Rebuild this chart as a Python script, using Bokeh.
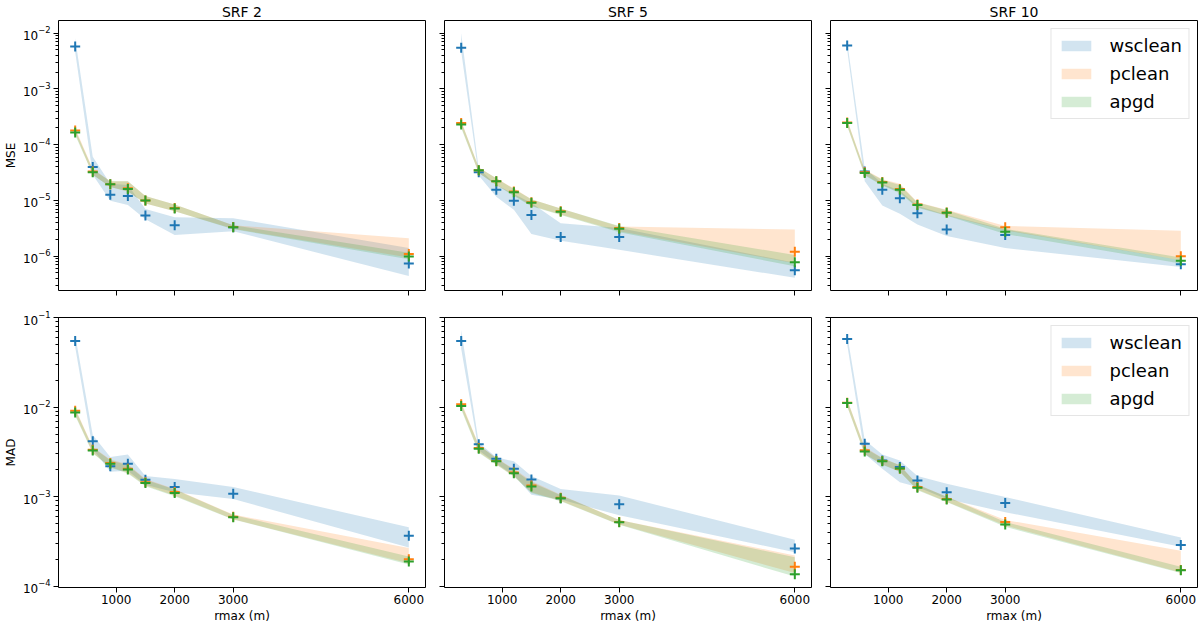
from bokeh.embed import file_html
from bokeh.layouts import gridplot
from bokeh.models import CustomJSTickFormatter, FixedTicker, LogTicker, Range1d
from bokeh.plotting import figure
from bokeh.resources import INLINE

rmax = [300, 600, 900, 1200, 1500, 2000, 3000, 6000]
x_ticks = [1000, 2000, 3000, 6000]
srf_labels = ["SRF 2", "SRF 5", "SRF 10"]
methods = ["wsclean", "pclean", "apgd"]
colors = ["#1f77b4", "#ff7f0e", "#2ca02c"]

# MSE, SRF 2
mse_srf2_wsclean = [5.8e-3, 4.0e-5, 1.26e-5, 1.2e-5, 5.4e-6, 3.6e-6, 3.3e-6, 7.4e-7]
mse_srf2_wsclean_lo = [4.6e-3, 2.9e-5, 9.9e-6, 8.3e-6, 4.6e-6, 2.4e-6, 2.8e-6, 4.4e-7]
mse_srf2_wsclean_hi = [8.1e-3, 6.1e-5, 2.0e-5, 1.9e-5, 7.0e-6, 5.0e-6, 4.8e-6, 1.4e-6]
mse_srf2_pclean = [1.8e-4, 3.3e-5, 1.95e-5, 1.65e-5, 1.0e-5, 7.3e-6, 3.35e-6, 1.1e-6]
mse_srf2_pclean_lo = [1.6e-4, 2.9e-5, 1.75e-5, 1.45e-5, 8.8e-6, 6.4e-6, 3.1e-6, 9.5e-7]
mse_srf2_pclean_hi = [2.0e-4, 3.7e-5, 2.2e-5, 2.2e-5, 1.2e-5, 8.5e-6, 3.6e-6, 2.1e-6]
mse_srf2_apgd = [1.66e-4, 3.2e-5, 1.95e-5, 1.6e-5, 1.0e-5, 7.2e-6, 3.3e-6, 9.9e-7]
mse_srf2_apgd_lo = [1.5e-4, 2.9e-5, 1.75e-5, 1.45e-5, 8.8e-6, 6.4e-6, 3.05e-6, 8.8e-7]
mse_srf2_apgd_hi = [1.85e-4, 3.6e-5, 2.2e-5, 2.2e-5, 1.2e-5, 8.5e-6, 3.6e-6, 1.15e-6]

# MSE, SRF 5
mse_srf5_wsclean = [5.5e-3, 3.2e-5, 1.55e-5, 9.9e-6, 5.5e-6, 2.2e-6, 2.2e-6, 5.6e-7]
mse_srf5_wsclean_lo = [4.7e-3, 2.8e-5, 1.17e-5, 6.8e-6, 2.5e-6, 1.9e-6, 1.3e-6, 4.1e-7]
mse_srf5_wsclean_hi = [1.0e-2, 3.7e-5, 1.9e-5, 1.3e-5, 9.0e-6, 3.9e-6, 3.2e-6, 7.6e-7]
mse_srf5_pclean = [2.45e-4, 3.5e-5, 2.2e-5, 1.45e-5, 9.3e-6, 6.4e-6, 3.2e-6, 1.2e-6]
mse_srf5_pclean_lo = [2.1e-4, 3.1e-5, 1.9e-5, 1.25e-5, 8.0e-6, 5.6e-6, 2.8e-6, 7.5e-7]
mse_srf5_pclean_hi = [2.7e-4, 3.9e-5, 2.5e-5, 1.65e-5, 1.05e-5, 7.2e-6, 3.4e-6, 3.0e-6]
mse_srf5_apgd = [2.3e-4, 3.5e-5, 2.2e-5, 1.4e-5, 9.1e-6, 6.3e-6, 3.1e-6, 7.8e-7]
mse_srf5_apgd_lo = [2.0e-4, 3.1e-5, 1.9e-5, 1.2e-5, 7.9e-6, 5.5e-6, 2.7e-6, 6.6e-7]
mse_srf5_apgd_hi = [2.6e-4, 3.9e-5, 2.5e-5, 1.6e-5, 1.05e-5, 7.2e-6, 3.5e-6, 1.05e-6]

# MSE, SRF 10
mse_srf10_wsclean = [6.0e-3, 3.3e-5, 1.55e-5, 1.1e-5, 5.9e-6, 3.0e-6, 2.4e-6, 7.2e-7]
mse_srf10_wsclean_lo = [5.0e-3, 2.2e-5, 8.1e-6, 5.8e-6, 3.7e-6, 2.3e-6, 1.4e-6, 6.4e-7]
mse_srf10_wsclean_hi = [7.0e-3, 3.8e-5, 2.0e-5, 1.5e-5, 8.0e-6, 5.5e-6, 3.0e-6, 8.5e-7]
mse_srf10_pclean = [2.5e-4, 3.2e-5, 2.15e-5, 1.6e-5, 8.5e-6, 6.1e-6, 3.3e-6, 1.0e-6]
mse_srf10_pclean_lo = [2.2e-4, 2.9e-5, 1.9e-5, 1.4e-5, 7.6e-6, 5.4e-6, 2.9e-6, 8.5e-7]
mse_srf10_pclean_hi = [2.8e-4, 3.6e-5, 2.4e-5, 2.0e-5, 9.3e-6, 6.8e-6, 3.5e-6, 2.85e-6]
mse_srf10_apgd = [2.45e-4, 3.1e-5, 2.1e-5, 1.55e-5, 8.3e-6, 6.0e-6, 2.75e-6, 8.3e-7]
mse_srf10_apgd_lo = [2.15e-4, 2.8e-5, 1.85e-5, 1.35e-5, 7.4e-6, 5.3e-6, 2.5e-6, 7.4e-7]
mse_srf10_apgd_hi = [2.75e-4, 3.5e-5, 2.35e-5, 1.9e-5, 9.2e-6, 6.7e-6, 3.1e-6, 9.5e-7]

# MAD, SRF 2
mad_srf2_wsclean = [0.0548, 4.15e-3, 2.19e-3, 2.33e-3, 1.55e-3, 1.28e-3, 1.08e-3, 3.66e-4]
mad_srf2_wsclean_lo = [0.047, 3.4e-3, 1.9e-3, 1.95e-3, 1.36e-3, 1.12e-3, 9.4e-4, 2.7e-4]
mad_srf2_wsclean_hi = [0.064, 4.9e-3, 2.77e-3, 2.95e-3, 1.7e-3, 1.58e-3, 1.28e-3, 4.55e-4]
mad_srf2_pclean = [9.1e-3, 3.35e-3, 2.38e-3, 2.05e-3, 1.45e-3, 1.13e-3, 5.95e-4, 2.0e-4]
mad_srf2_pclean_lo = [8.3e-3, 3.1e-3, 2.15e-3, 1.85e-3, 1.33e-3, 1.03e-3, 5.6e-4, 1.8e-4]
mad_srf2_pclean_hi = [9.8e-3, 3.6e-3, 2.6e-3, 2.3e-3, 1.58e-3, 1.22e-3, 6.3e-4, 2.67e-4]
mad_srf2_apgd = [8.7e-3, 3.29e-3, 2.33e-3, 2.01e-3, 1.42e-3, 1.10e-3, 5.89e-4, 1.88e-4]
mad_srf2_apgd_lo = [8.0e-3, 3.05e-3, 2.12e-3, 1.82e-3, 1.31e-3, 1.01e-3, 5.55e-4, 1.75e-4]
mad_srf2_apgd_hi = [9.5e-3, 3.55e-3, 2.55e-3, 2.25e-3, 1.55e-3, 1.2e-3, 6.25e-4, 2.15e-4]

# MAD, SRF 5
mad_srf5_wsclean = [0.0548, 3.84e-3, 2.65e-3, 2.05e-3, 1.56e-3, 9.6e-4, 8.24e-4, 2.64e-4]
mad_srf5_wsclean_lo = [0.045, 3.3e-3, 2.35e-3, 1.73e-3, 1.05e-3, 9.3e-4, 6.2e-4, 2.39e-4]
mad_srf5_wsclean_hi = [0.073, 4.0e-3, 2.75e-3, 2.48e-3, 1.7e-3, 1.22e-3, 1.03e-3, 3.3e-4]
mad_srf5_pclean = [0.0108, 3.5e-3, 2.5e-3, 1.86e-3, 1.33e-3, 9.7e-4, 5.2e-4, 1.65e-4]
mad_srf5_pclean_lo = [9.8e-3, 3.15e-3, 2.3e-3, 1.7e-3, 1.12e-3, 9.0e-4, 4.9e-4, 1.4e-4]
mad_srf5_pclean_hi = [1.15e-2, 3.8e-3, 2.7e-3, 2.05e-3, 1.5e-3, 1.05e-3, 5.5e-4, 2.2e-4]
mad_srf5_apgd = [0.0103, 3.43e-3, 2.48e-3, 1.83e-3, 1.30e-3, 9.6e-4, 5.18e-4, 1.36e-4]
mad_srf5_apgd_lo = [9.4e-3, 3.1e-3, 2.28e-3, 1.68e-3, 1.1e-3, 8.9e-4, 4.85e-4, 1.28e-4]
mad_srf5_apgd_hi = [1.1e-2, 3.75e-3, 2.68e-3, 2.0e-3, 1.45e-3, 1.04e-3, 5.5e-4, 2.1e-4]

# MAD, SRF 10
mad_srf10_wsclean = [0.0577, 3.9e-3, 2.54e-3, 2.14e-3, 1.52e-3, 1.12e-3, 8.5e-4, 2.88e-4]
mad_srf10_wsclean_lo = [0.05, 3.0e-3, 2.05e-3, 1.45e-3, 1.28e-3, 9.4e-4, 6.7e-4, 2.75e-4]
mad_srf10_wsclean_hi = [0.065, 4.3e-3, 2.95e-3, 2.54e-3, 1.7e-3, 1.39e-3, 9.9e-4, 3.5e-4]
mad_srf10_pclean = [0.0112, 3.3e-3, 2.5e-3, 2.05e-3, 1.28e-3, 9.4e-4, 5.2e-4, 1.52e-4]
mad_srf10_pclean_lo = [0.0103, 3.0e-3, 2.3e-3, 1.9e-3, 1.2e-3, 8.8e-4, 4.75e-4, 1.42e-4]
mad_srf10_pclean_hi = [0.0122, 3.6e-3, 2.7e-3, 2.25e-3, 1.38e-3, 1.0e-3, 5.5e-4, 2.49e-4]
mad_srf10_apgd = [0.0111, 3.2e-3, 2.48e-3, 2.07e-3, 1.26e-3, 9.3e-4, 4.88e-4, 1.51e-4]
mad_srf10_apgd_lo = [0.0102, 2.95e-3, 2.28e-3, 1.9e-3, 1.18e-3, 8.7e-4, 4.6e-4, 1.4e-4]
mad_srf10_apgd_hi = [0.0121, 3.5e-3, 2.68e-3, 2.25e-3, 1.36e-3, 1.0e-3, 5.2e-4, 1.65e-4]

# (median, low, high) per panel, in method order
mse_panels = [
    [(mse_srf2_wsclean, mse_srf2_wsclean_lo, mse_srf2_wsclean_hi),
     (mse_srf2_pclean, mse_srf2_pclean_lo, mse_srf2_pclean_hi),
     (mse_srf2_apgd, mse_srf2_apgd_lo, mse_srf2_apgd_hi)],
    [(mse_srf5_wsclean, mse_srf5_wsclean_lo, mse_srf5_wsclean_hi),
     (mse_srf5_pclean, mse_srf5_pclean_lo, mse_srf5_pclean_hi),
     (mse_srf5_apgd, mse_srf5_apgd_lo, mse_srf5_apgd_hi)],
    [(mse_srf10_wsclean, mse_srf10_wsclean_lo, mse_srf10_wsclean_hi),
     (mse_srf10_pclean, mse_srf10_pclean_lo, mse_srf10_pclean_hi),
     (mse_srf10_apgd, mse_srf10_apgd_lo, mse_srf10_apgd_hi)],
]
mad_panels = [
    [(mad_srf2_wsclean, mad_srf2_wsclean_lo, mad_srf2_wsclean_hi),
     (mad_srf2_pclean, mad_srf2_pclean_lo, mad_srf2_pclean_hi),
     (mad_srf2_apgd, mad_srf2_apgd_lo, mad_srf2_apgd_hi)],
    [(mad_srf5_wsclean, mad_srf5_wsclean_lo, mad_srf5_wsclean_hi),
     (mad_srf5_pclean, mad_srf5_pclean_lo, mad_srf5_pclean_hi),
     (mad_srf5_apgd, mad_srf5_apgd_lo, mad_srf5_apgd_hi)],
    [(mad_srf10_wsclean, mad_srf10_wsclean_lo, mad_srf10_wsclean_hi),
     (mad_srf10_pclean, mad_srf10_pclean_lo, mad_srf10_pclean_hi),
     (mad_srf10_apgd, mad_srf10_apgd_lo, mad_srf10_apgd_hi)],
]

FONT = "DejaVu Sans"
x_range = Range1d(15, 6285)
mse_range = Range1d(10 ** -6.615, 10 ** -1.772)
mad_range = Range1d(10 ** -4.015, 10 ** -0.998)

border_left = [49, 9, 9]
border_right = [10, 10, 2]


def make_panel(series, y_range, row, col):
    top = row == 0
    p = figure(
        frame_width=367, frame_height=270,
        x_range=x_range, y_range=y_range, y_axis_type="log",
        output_backend="svg", toolbar_location=None,
        min_border_left=border_left[col], min_border_right=border_right[col],
        min_border_top=4 if top else 17, min_border_bottom=10 if top else 30,
        background_fill_color="white", border_fill_color="white",
    )
    p.xgrid.visible = False
    p.ygrid.visible = False
    p.outline_line_color = "black"
    p.outline_line_alpha = 1.0
    p.outline_line_width = 1

    if top:
        p.title.text = srf_labels[col]
        p.title.align = "center"
        p.title.text_font = FONT
        p.title.text_font_size = "14px"
        p.title.text_font_style = "normal"
        p.title.text_color = "black"
        p.title.standoff = 2

    for axis in (p.xaxis, p.yaxis):
        axis.axis_line_color = None
        axis.major_tick_in = 0
        axis.minor_tick_in = 0
        axis.major_tick_out = 5
        axis.minor_tick_out = 3
        axis.major_label_text_font = FONT
        axis.major_label_text_font_size = "12px"
        axis.major_label_text_color = "black"
        axis.axis_label_text_font = FONT
        axis.axis_label_text_font_size = "12px"
        axis.axis_label_text_font_style = "normal"
        axis.axis_label_text_color = "black"

    p.xaxis.ticker = FixedTicker(ticks=x_ticks)
    p.yaxis.ticker = LogTicker(num_minor_ticks=10)

    if top:
        p.xaxis.formatter = CustomJSTickFormatter(code="return ''")
        p.xaxis.major_label_standoff = 0
    else:
        p.xaxis.axis_label = "rmax (m)"
        p.xaxis.major_label_standoff = 2
        p.xaxis.axis_label_standoff = 2

    if col == 0:
        p.yaxis.axis_label = "MSE" if top else "MAD"
        p.yaxis.major_label_standoff = 3
        p.yaxis.axis_label_standoff = 2
    else:
        p.yaxis.formatter = CustomJSTickFormatter(code="return ''")
        p.yaxis.major_label_standoff = 0

    for (med, lo, hi), name, color in zip(series, methods, colors):
        kw = dict(legend_label=name) if col == 2 else {}
        p.varea(x=rmax, y1=lo, y2=hi, fill_color=color, fill_alpha=0.2, **kw)
    for (med, lo, hi), color in zip(series, colors):
        p.scatter(rmax, med, marker="cross", size=10, line_width=2, color=color)

    if col == 2:
        lg = p.legend[0]
        lg.location = "top_right"
        lg.margin = 8
        lg.padding = 6
        lg.spacing = 7
        lg.glyph_width = 37
        lg.glyph_height = 13
        lg.label_height = 20
        lg.label_standoff = 15
        lg.label_text_font = FONT
        lg.label_text_font_size = "18px"
        lg.label_text_color = "black"
        lg.border_line_color = "#cccccc"
        lg.background_fill_alpha = 0.8
    return p


top_row = [make_panel(mse_panels[c], mse_range, 0, c) for c in range(3)]
bottom_row = [make_panel(mad_panels[c], mad_range, 1, c) for c in range(3)]

p = gridplot([top_row, bottom_row], toolbar_location=None)

open("out.html", "w").write(file_html(p, INLINE))
